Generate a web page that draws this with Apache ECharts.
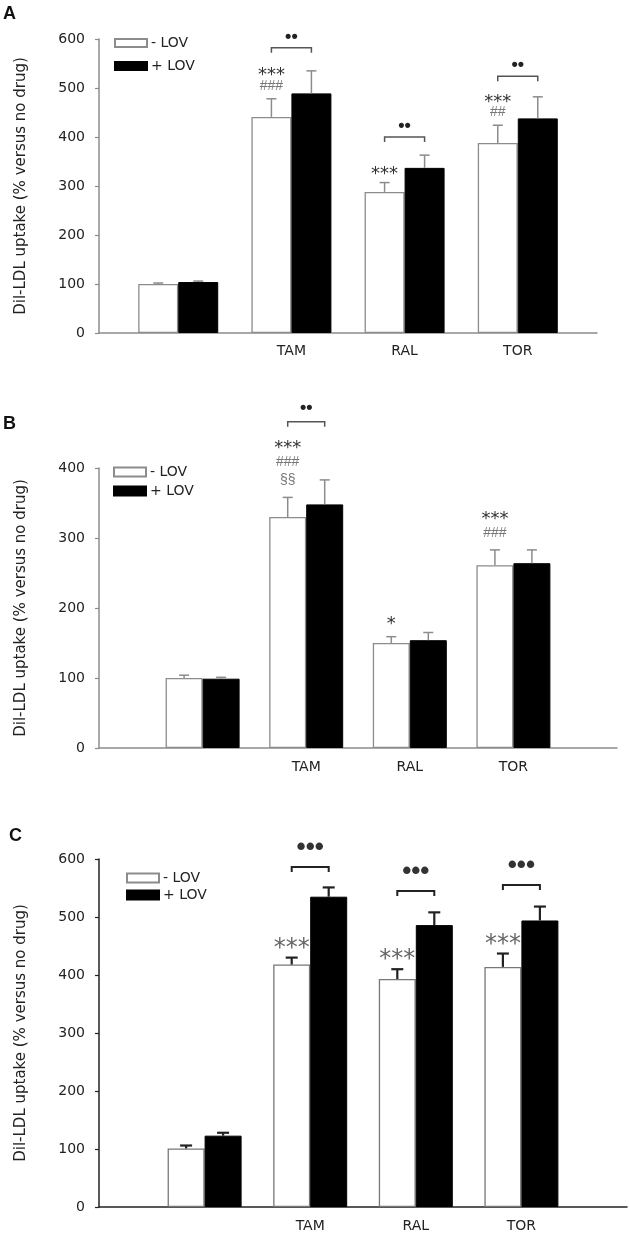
<!DOCTYPE html>
<html><head><meta charset="utf-8">
<script src="https://cdn.jsdelivr.net/npm/echarts@6/dist/echarts.min.js"></script>
<style>html,body{margin:0;padding:0;background:#fff}#c{width:630px;height:1240px}</style>
</head><body><div id="c"></div>
<script>
// ---------- data ----------
const categories = ['', 'TAM', 'RAL', 'TOR'];
const legendNames = ['- LOV', '+ LOV'];
const yTicksA = [0, 100, 200, 300, 400, 500, 600];
const yTicksB = [0, 100, 200, 300, 400];
const yTicksC = [0, 100, 200, 300, 400, 500, 600];
const yName = 'Dil-LDL uptake (% versus no drug)';

const A_minus = [100, 441, 288, 388];
const A_minusErr = [2, 37, 19, 36];
const A_plus = [104, 489, 337, 438];
const A_plusErr = [2, 46, 26, 44];
const A_marks = [[], ['***', '###'], ['***'], ['***', '##']];
const A_brackets = [null, 582, 400, 524];
const A_bracketMark = '••';

const B_minus = [100, 330, 150, 261];
const B_minusErr = [4, 28, 9, 22];
const B_plus = [99, 348, 154, 264];
const B_plusErr = [2, 35, 11, 19];
const B_marks = [[], ['***', '###', '§§'], ['*'], ['***', '###']];
const B_brackets = [null, 466, null, null];
const B_bracketMark = '••';

const C_minus = [101, 418, 393, 414];
const C_minusErr = [5, 12, 17, 23];
const C_plus = [123, 535, 486, 494];
const C_plusErr = [5, 16, 22, 24];
const C_marks = [[], ['***'], ['***'], ['***']];
const C_brackets = [null, 586, 545, 555];
const C_bracketMark = '•••';

// ---------- styles / layout ----------
const FONT = '"DejaVu Sans", "Liberation Sans", Arial, sans-serif';
const FONT2 = '"Liberation Sans", Arial, sans-serif';
const panels = [
  {letter:'A', letterPos:[3,5], minus:A_minus, minusErr:A_minusErr, plus:A_plus, plusErr:A_plusErr,
   marks:A_marks, brackets:A_brackets, bmark:A_bracketMark, ticks:yTicksA,
   grid:{left:99, top:39, width:498, height:294}, xmin:-0.7, xmax:3.7, bw:40,
   axisColor:'#8c8c8c', errColor:'#8c8c8c', errW:1.5, cap:5, barBorder:'#8c8c8c',
   starFs:18, starColor:'#333', hashColor:'#777', firstGap:13, lineGap:14.5,
   bracketColor:'#555', bracketW:1.5, dotsGap:11, dotsFs:18, dotsColor:'#222',
   legend:{left:114, top:36, itemGap:9, itemHeight:8}, labelMargin:11, nameGap:70},
  {letter:'B', letterPos:[3,415], minus:B_minus, minusErr:B_minusErr, plus:B_plus, plusErr:B_plusErr,
   marks:B_marks, brackets:B_brackets, bmark:B_bracketMark, ticks:yTicksB,
   grid:{left:99, top:468, width:518, height:280}, xmin:-1, xmax:4, bw:37,
   axisColor:'#8c8c8c', errColor:'#8c8c8c', errW:1.5, cap:5, barBorder:'#8c8c8c',
   starFs:18, starColor:'#333', hashColor:'#777', firstGap:17, lineGap:18.5,
   bracketColor:'#555', bracketW:1.5, dotsGap:14, dotsFs:18, dotsColor:'#222',
   legend:{left:113, top:465, itemGap:5, itemHeight:9}, labelMargin:12, nameGap:70},
  {letter:'C', letterPos:[9,827], minus:C_minus, minusErr:C_minusErr, plus:C_plus, plusErr:C_plusErr,
   marks:C_marks, brackets:C_brackets, bmark:C_bracketMark, ticks:yTicksC,
   grid:{left:99, top:859, width:529, height:348}, xmin:-1, xmax:4, bw:37,
   axisColor:'#222', errColor:'#222', errW:2.2, cap:6, barBorder:'#777',
   starFs:24, starColor:'#666', hashColor:'#777', firstGap:15, lineGap:18,
   bracketColor:'#222', bracketW:2, dotsGap:19, dotsFs:26, dotsColor:'#333',
   legend:{left:126, top:871, itemGap:3, itemHeight:9}, labelMargin:12, nameGap:70}
];

const option = {animation:false, backgroundColor:'#fff', title:[], grid:[], xAxis:[], yAxis:[], legend:[], series:[]};

panels.forEach((p, k) => {
  option.title.push({text:p.letter, left:p.letterPos[0], top:p.letterPos[1], padding:0,
    textStyle:{fontFamily:FONT2, fontWeight:'bold', fontSize:18, color:'#111'}});
  option.grid.push(Object.assign({containLabel:false}, p.grid));
  option.xAxis.push({type:'value', gridIndex:k, min:p.xmin, max:p.xmax, interval:0.1,
    axisLine:{show:true, onZero:false, lineStyle:{color:p.axisColor, width:1.5}},
    axisTick:{show:false}, splitLine:{show:false},
    axisLabel:{margin:p.labelMargin, fontFamily:FONT, fontSize:14, color:'#222',
      formatter:v => { const r = Math.round(v); return (Math.abs(v - r) < 1e-6 && r >= 0 && r < categories.length) ? categories[r] : ''; }}});
  option.yAxis.push({type:'value', gridIndex:k, min:p.ticks[0], max:p.ticks[p.ticks.length-1],
    interval:p.ticks[1]-p.ticks[0],
    axisLine:{show:true, onZero:false, lineStyle:{color:p.axisColor, width:1.5}},
    axisTick:{show:true, length:4, lineStyle:{color:p.axisColor, width:1.2}},
    splitLine:{show:false},
    axisLabel:{margin:14, fontFamily:FONT, fontSize:14, color:'#222'},
    name:yName, nameLocation:'middle', nameGap:p.nameGap,
    nameTextStyle:{fontFamily:FONT, fontSize:15, color:'#222'}});
  option.legend.push({data:legendNames.map(n => ({name:n, icon:'rect'})), orient:'vertical',
    left:p.legend.left, top:p.legend.top,
    itemWidth:32, itemHeight:p.legend.itemHeight, itemGap:p.legend.itemGap, padding:0, selectedMode:false,
    textStyle:{fontFamily:FONT, fontSize:14, color:'#222', padding:[0,0,0,-1]}});

  option.series.push({type:'bar', name:legendNames[0], xAxisIndex:k, yAxisIndex:k,
    data:p.minus.map((v,i)=>[i,v]), barWidth:p.bw, barGap:'0%',
    itemStyle:{color:'#fff', borderColor:p.barBorder, borderWidth:1.3}});
  option.series.push({type:'bar', name:legendNames[1], xAxisIndex:k, yAxisIndex:k,
    data:p.plus.map((v,i)=>[i,v]), barWidth:p.bw, barGap:'0%',
    itemStyle:{color:'#000', borderColor:'#000', borderWidth:1}});

  // error bars
  [[p.minus, p.minusErr, -1], [p.plus, p.plusErr, 1]].forEach(([vals, errs, side]) => {
    option.series.push({type:'custom', xAxisIndex:k, yAxisIndex:k, clip:false, z:5, silent:true,
      data:vals.map((v,i)=>[i, v, v + errs[i]]), encode:{x:0, y:[1,2]},
      renderItem:(params, api) => {
        const x = api.value(0);
        const base = api.coord([x, api.value(1)]);
        const top = api.coord([x, api.value(2)]);
        const cx = base[0] + side * p.bw / 2;
        const st = {stroke:p.errColor, lineWidth:p.errW};
        return {type:'group', children:[
          {type:'line', shape:{x1:cx, y1:base[1], x2:cx, y2:top[1]}, style:st},
          {type:'line', shape:{x1:cx-p.cap, y1:top[1], x2:cx+p.cap, y2:top[1]}, style:st}
        ]};
      }});
  });

  // significance marks and brackets
  option.series.push({type:'custom', xAxisIndex:k, yAxisIndex:k, clip:false, z:6, silent:true,
    data:p.minus.map((v,i)=>[i, v + p.minusErr[i]]), encode:{x:0, y:1},
    renderItem:(params, api) => {
      const i = params.dataIndex;
      const x = api.value(0);
      const cap = api.coord([x, api.value(1)]);
      const wx = cap[0] - p.bw / 2, bx = cap[0] + p.bw / 2;
      const children = [];
      const lines = p.marks[i];
      for (let j = lines.length - 1, n = 0; j >= 0; j--, n++) {
        const t = lines[j];
        const isStar = t.indexOf('*') >= 0;
        const yc = cap[1] - p.firstGap - n * p.lineGap;
        children.push({type:'text', x:wx, y:yc + (isStar ? 0.25 * p.starFs : 0),
          style:{text:t, align:'center', verticalAlign:'middle',
            font: isStar ? (p.starFs + 'px ' + FONT) : ('14px ' + FONT2),
            fill: isStar ? p.starColor : p.hashColor}});
      }
      const b = p.brackets[i];
      if (b != null) {
        const by = api.coord([x, b])[1];
        const st = {stroke:p.bracketColor, lineWidth:p.bracketW, fill:null};
        children.push({type:'polyline', shape:{points:[[wx, by+5],[wx, by],[bx, by],[bx, by+5]]}, style:st});
        children.push({type:'text', x:cap[0], y:by - p.dotsGap,
          style:{text:p.bmark, align:'center', verticalAlign:'middle',
            font:'bold ' + p.dotsFs + 'px ' + FONT2, fill:p.dotsColor}});
      }
      return {type:'group', children};
    }});
});

const chart = echarts.init(document.getElementById('c'), null, {renderer:'canvas'});
chart.setOption(option);
</script></body></html>
